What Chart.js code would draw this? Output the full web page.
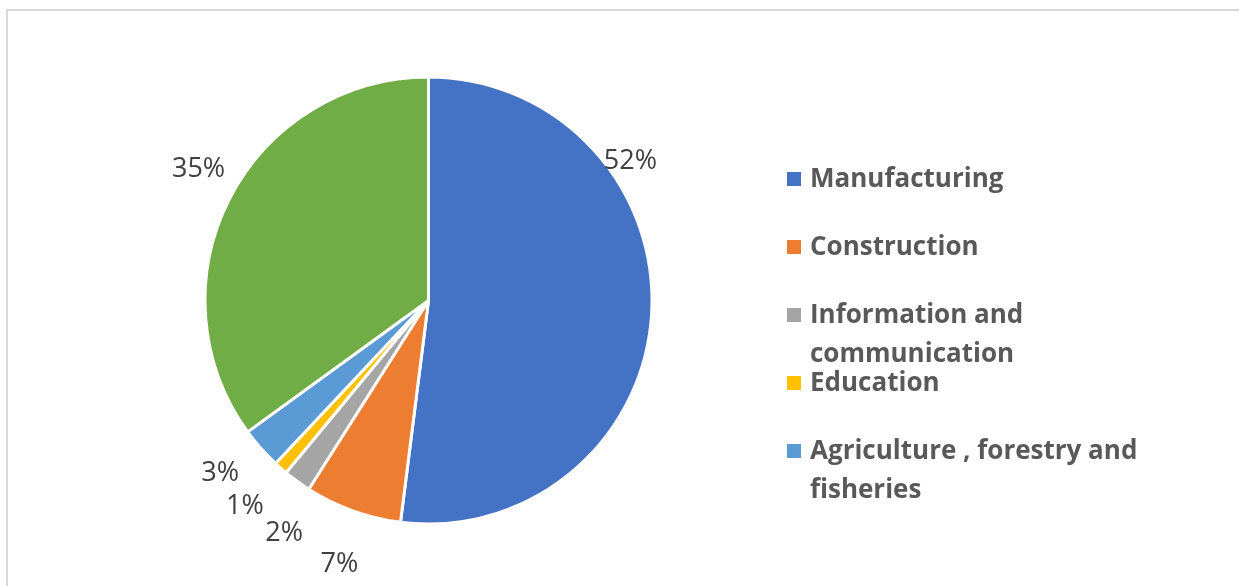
<!DOCTYPE html>
<html>
<head>
<meta charset="utf-8">
<script src="https://cdn.jsdelivr.net/npm/chart.js@4.4.1/dist/chart.umd.min.js"></script>
<style>
    html, body { margin: 0; padding: 0; background: #fff; overflow: hidden; }
    #wrap { position: relative; width: 1239px; height: 586px; overflow: hidden; }
    #topLine { position: absolute; left: 6px; top: 9px; width: 1233px; height: 2px; background: #d9d9d9; }
    #leftLine { position: absolute; left: 6px; top: 9px; width: 2px; height: 577px; background: #d9d9d9; }
    #pie { position: absolute; left: 0; top: 0; }
</style>
</head>
<body>
<div id="wrap">
    <div id="topLine"></div>
    <div id="leftLine"></div>
    <canvas id="pie" width="1239" height="586"></canvas>
</div>
<script>
// sectors, clockwise from 12 o'clock (the green one has no legend entry)
const sectors = ["Manufacturing", "Construction", "Information and\ncommunication", "Education", "Agriculture , forestry and\nfisheries", ""];
const shares = [52, 7, 2, 1, 3, 35];
const sliceColors = ["#4472C4", "#ED7D31", "#A5A5A5", "#FFC000", "#5B9BD5", "#70AD47"];

(function () {
    // Excel spread the small labels apart; nudges are [degrees, extra px]
    const nudges = [[-38.6, 23], [-1, 53], [-4, 49], [0.6, 51], [2, 46], [3, 42]];

    // percentage labels outside the pie, read from the arcs
    const outsideLabels = {
        id: 'outsideLabels',
        afterDatasetsDraw(chart) {
            const ctx = chart.ctx;
            const meta = chart.getDatasetMeta(0);
            ctx.save();
            ctx.font = '27px "Open Sans"';
            ctx.fillStyle = '#404040';
            ctx.textAlign = 'center';
            ctx.textBaseline = 'middle';
            meta.data.forEach(function (arc, i) {
                const mid = (arc.startAngle + arc.endAngle) / 2 + nudges[i][0] * Math.PI / 180;
                const dist = arc.outerRadius + nudges[i][1];
                const x = arc.x + Math.cos(mid) * dist;
                const y = arc.y + Math.sin(mid) * dist + 2;
                ctx.fillText(shares[i] + '%', x, y);
            });
            ctx.restore();
        }
    };

    // legend on the right with wrapped names
    const sideLegend = {
        id: 'sideLegend',
        afterDraw(chart) {
            const ctx = chart.ctx;
            ctx.save();
            ctx.font = 'bold 26px "Open Sans"';
            ctx.textBaseline = 'middle';
            let row = 0;
            sectors.forEach(function (name, i) {
                if (!name) return;
                const y = 179 + row * 68;
                ctx.fillStyle = sliceColors[i];
                ctx.fillRect(787, y - 7, 14, 14);
                ctx.fillStyle = '#595959';
                name.split('\n').forEach(function (line, k) {
                    ctx.fillText(line, 810, y + 1 + k * 39);
                });
                row++;
            });
            ctx.restore();
        }
    };

    new Chart(document.getElementById('pie'), {
        type: 'pie',
        data: {
            labels: sectors,
            datasets: [{
                data: shares,
                backgroundColor: sliceColors,
                borderColor: '#ffffff',
                borderWidth: 3
            }]
        },
        options: {
            responsive: false,
            animation: false,
            devicePixelRatio: 1,
            layout: {
                padding: { left: 203.5, right: 585.5, top: 75.5, bottom: 60.5 }
            },
            plugins: {
                legend: { display: false },
                tooltip: { enabled: false }
            }
        },
        plugins: [outsideLabels, sideLegend]
    });
})();
</script>
</body>
</html>
